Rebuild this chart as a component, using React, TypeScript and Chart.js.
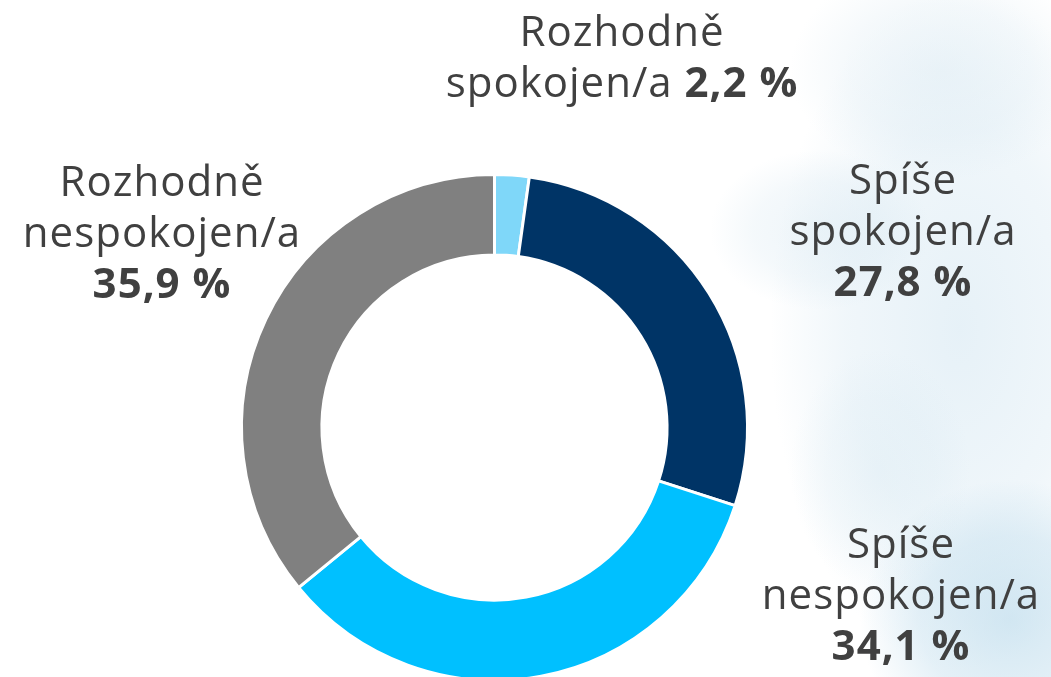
import React, { useEffect, useRef } from "react";
import { Chart, registerables } from "chart.js";

Chart.register(...registerables);

const categories = [
  "Rozhodně spokojen/a",
  "Spíše spokojen/a",
  "Spíše nespokojen/a",
  "Rozhodně nespokojen/a",
];
const values = [2.2, 27.8, 34.1, 35.9];
const valueLabels = ["2,2 %", "27,8 %", "34,1 %", "35,9 %"];
const labelLines = [
  ["Rozhodně", "spokojen/a"],
  ["Spíše", "spokojen/a"],
  ["Spíše", "nespokojen/a"],
  ["Rozhodně", "nespokojen/a"],
];
const colors = ["#7fd7f9", "#003466", "#00c0ff", "#808080"];

const FONT = '"Open Sans", "DejaVu Sans", sans-serif';
const TEXT_COLOR = "#404040";
const FONT_SIZE = 42;
const LINE_H = 51;

// label anchor (center x, first baseline y) and whether value is inline on last line
const labelLayout = [
  { x: 622, y: 46, inline: true },
  { x: 903, y: 194, inline: false },
  { x: 901, y: 558, inline: false },
  { x: 162, y: 196, inline: false },
];

const backgroundPlugin = {
  id: "bgWash",
  beforeDraw(chart: any) {
    const ctx = chart.ctx as CanvasRenderingContext2D;
    ctx.save();
    ctx.fillStyle = "#ffffff";
    ctx.fillRect(0, 0, chart.width, chart.height);
    const blobs = [
      { x: 960, y: 330, rx: 190, ry: 340, c: "200,224,238", a: 0.45 },
      { x: 1010, y: 620, rx: 150, ry: 140, c: "175,212,232", a: 0.55 },
      { x: 940, y: 70, rx: 150, ry: 110, c: "212,230,240", a: 0.4 },
      { x: 820, y: 230, rx: 110, ry: 80, c: "205,226,238", a: 0.35 },
      { x: 880, y: 470, rx: 90, ry: 120, c: "210,230,240", a: 0.3 },
    ];
    for (const b of blobs) {
      ctx.save();
      ctx.translate(b.x, b.y);
      ctx.scale(b.rx / 100, b.ry / 100);
      const g = ctx.createRadialGradient(0, 0, 0, 0, 0, 100);
      g.addColorStop(0, `rgba(${b.c},${b.a})`);
      g.addColorStop(0.6, `rgba(${b.c},${b.a * 0.6})`);
      g.addColorStop(1, `rgba(${b.c},0)`);
      ctx.fillStyle = g;
      ctx.beginPath();
      ctx.arc(0, 0, 100, 0, Math.PI * 2);
      ctx.fill();
      ctx.restore();
    }
    ctx.restore();
  },
};

const labelsPlugin = {
  id: "outerLabels",
  afterDraw(chart: any) {
    const ctx = chart.ctx as CanvasRenderingContext2D;
    ctx.save();
    ctx.textBaseline = "alphabetic";
    ctx.fillStyle = TEXT_COLOR;
    const regular = `400 ${FONT_SIZE}px ${FONT}`;
    const bold = `700 ${FONT_SIZE}px ${FONT}`;
    (ctx as any).letterSpacing = "1px";
    labelLines.forEach((lines, i) => {
      const pos = labelLayout[i];
      let y = pos.y;
      lines.forEach((line, li) => {
        const isLast = li === lines.length - 1;
        if (isLast && pos.inline) {
          ctx.font = regular;
          const part1 = line + " ";
          const w1 = ctx.measureText(part1).width;
          ctx.font = bold;
          const w2 = ctx.measureText(valueLabels[i]).width;
          const start = pos.x - (w1 + w2) / 2;
          ctx.textAlign = "left";
          ctx.font = regular;
          ctx.fillText(part1, start, y);
          ctx.font = bold;
          ctx.fillText(valueLabels[i], start + w1, y);
        } else {
          ctx.textAlign = "center";
          ctx.font = regular;
          ctx.fillText(line, pos.x, y);
        }
        y += LINE_H;
      });
      if (!pos.inline) {
        ctx.textAlign = "center";
        ctx.font = bold;
        ctx.fillText(valueLabels[i], pos.x, y);
      }
    });
    ctx.restore();
  },
};

export default function App() {
  const ref = useRef<HTMLCanvasElement | null>(null);
  useEffect(() => {
    if (!ref.current) return;
    const chart = new Chart(ref.current, {
      type: "doughnut",
      data: {
        labels: categories,
        datasets: [
          {
            data: values,
            backgroundColor: colors,
            borderColor: "#ffffff",
            borderWidth: 3,
            hoverOffset: 0,
          },
        ],
      },
      options: {
        responsive: false,
        animation: false,
        cutout: "68.2%",
        rotation: 0,
        layout: { padding: { left: 240, right: 302, top: 173, bottom: 18 } },
        plugins: {
          legend: { display: false },
          tooltip: { enabled: false },
        },
      },
      plugins: [backgroundPlugin, labelsPlugin],
    });
    return () => chart.destroy();
  }, []);
  return (
    <div
      style={{
        position: "absolute",
        left: 0,
        top: 0,
        width: 1051,
        height: 677,
        overflow: "hidden",
        background: "#fff",
      }}
    >
      <canvas ref={ref} width={1051} height={700} style={{ display: "block" }} />
    </div>
  );
}
